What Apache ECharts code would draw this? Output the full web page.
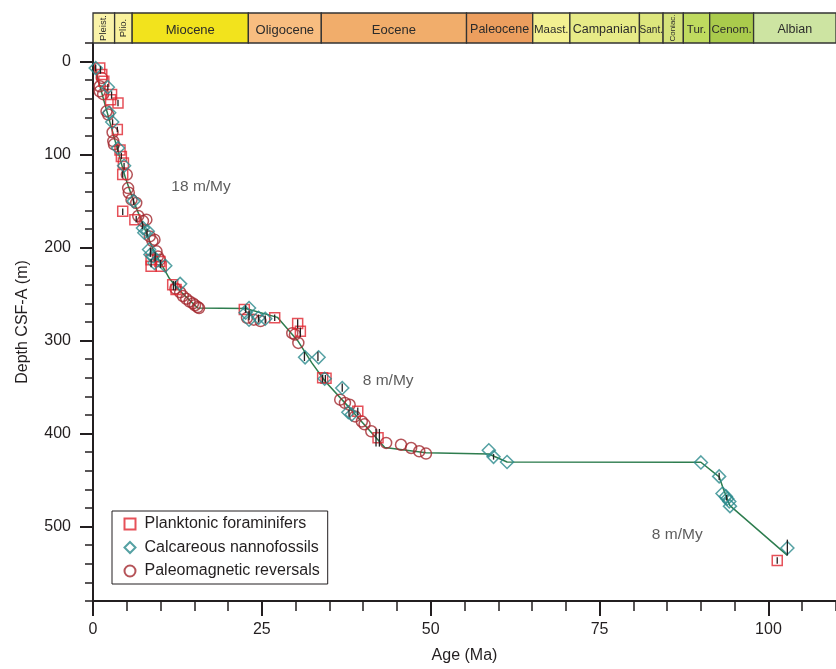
<!DOCTYPE html>
<html><head><meta charset="utf-8">
<script src="https://cdn.jsdelivr.net/npm/echarts@6/dist/echarts.min.js"></script>
<style>html,body{margin:0;padding:0;background:#fff}#c{width:836px;height:669px}</style>
</head><body><div id="c"></div>
<script>
// ---- data ----
const foramAge   = [1.0, 1.3, 1.6, 2.75, 2.6, 3.7, 3.6, 4.0, 4.2, 4.5, 4.4, 4.4, 6.2, 8.6, 8.6, 9.9, 10.1, 11.8, 12.3, 22.4, 26.9, 30.3, 30.7, 34.0, 34.5, 39.2, 42.2, 101.3];
const foramDepth = [7, 14, 21, 35.5, 41, 44.5, 73, 95, 102, 109, 121.5, 161, 170, 213, 220, 215, 220, 240, 245, 266.5, 275.5, 281.5, 290, 340, 340.5, 376, 404.5, 536.5];

const nannoAge   = [0.4, 2.2, 2.4, 2.85, 3.7, 4.6, 6.0, 7.4, 7.6, 8.1, 8.3, 8.5, 8.9, 9.1, 10.7, 12.9, 22.6, 23.1, 23.1, 24.5, 25.5, 31.4, 33.4, 34.3, 36.9, 37.8, 38.3, 58.6, 59.3, 61.3, 90.0, 92.7, 93.2, 93.7, 93.9, 94.2, 94.3, 102.8];
const nannoDepth = [7, 27.5, 55, 65, 93, 112, 150, 179, 184, 182.5, 202, 207.5, 209.5, 216.5, 219.5, 239, 270, 265, 277.5, 275.5, 276.5, 318, 318, 341, 351, 377, 379.5, 418, 425, 430.5, 431, 446, 464.5, 467.5, 470, 473, 478, 523];

const paleoAge   = [1.3, 1.0, 1.0, 1.5, 2.0, 2.25, 2.9, 3.0, 3.1, 5.0, 5.2, 5.3, 5.7, 6.4, 6.7, 7.4, 7.9, 8.4, 8.8, 9.1, 9.4, 9.6, 9.9, 12.2, 12.9, 13.3, 13.8, 14.3, 14.8, 15.1, 15.5, 15.7, 22.8, 23.8, 24.8, 29.5, 29.9, 30.4, 36.6, 37.3, 38.0, 38.8, 39.8, 40.2, 41.2, 43.4, 45.6, 47.1, 48.3, 49.3];
const paleoDepth = [17.5, 26.5, 32, 35, 53.5, 57, 76, 85.5, 89, 121.5, 136, 141, 148.5, 152, 166, 171.5, 170, 188, 193, 191.5, 204, 209.5, 213, 244, 248, 252, 255, 258, 260, 262, 264, 265, 275.5, 277.5, 279, 292, 293.5, 302.5, 363.5, 367, 369, 381.5, 387, 390, 397.5, 410, 412, 415.5, 419, 421.5];

const modelAge   = [0.2, 4.8, 6.0, 8.9, 11.3, 12.5, 15.5, 22.6, 27.3, 30.4, 32.4, 34.4, 37.8, 43.2, 49.3, 58.6, 61.3, 90.0, 92.7, 93.2, 94.3, 102.8];
const modelDepth = [5, 125, 150, 202, 233, 244, 265, 265.5, 275, 301, 324, 344, 371, 415, 420.5, 422, 430.5, 430.8, 446.5, 457, 477.5, 531];

const errAge    = [0.4, 1.1, 2.2, 2.75, 3.7, 2.9, 3.6, 3.7, 4.2, 4.6, 4.4, 6.0, 4.4, 6.4, 7.3, 8.0, 8.5, 9.2, 8.6, 10.0, 11.9, 12.2, 22.6, 23.1, 24.5, 25.5, 26.9, 30.3, 30.7, 31.3, 33.3, 34.0, 34.4, 36.9, 37.9, 39.2, 41.9, 42.4, 59.3, 92.7, 93.8, 101.3, 102.8];
const errTop    = [3, 5, 24, 32, 41, 62, 70, 90, 98, 109, 118, 147, 158, 166, 172, 180, 200, 205, 212, 213, 236, 236, 262, 268, 272, 273, 272, 277, 286, 312, 312, 337, 337, 346, 374, 372, 395, 395, 422, 442, 466, 533, 514];
const errBottom = [10, 13, 31, 40, 48, 68, 76, 97, 105, 116, 125, 154, 165, 173, 180, 188, 210, 215, 221, 222, 246, 246, 270, 278, 280, 281, 279, 287, 296, 322, 322, 345, 345, 355, 382, 380, 414, 414, 428, 450, 472, 540, 531];

const stageNames = ['Pleist.', 'Plio.', 'Miocene', 'Oligocene', 'Eocene', 'Paleocene', 'Maast.', 'Campanian', 'Sant.', 'Coniac.', 'Tur.', 'Cenom.', 'Albian'];
const stageStart = [0, 3.2, 5.8, 23.0, 33.8, 55.3, 65.1, 70.6, 80.9, 84.4, 87.4, 91.3, 97.8];
const stageEnd   = [3.2, 5.8, 23.0, 33.8, 55.3, 65.1, 70.6, 80.9, 84.4, 87.4, 91.3, 97.8, 110];

const rateLabels = ['18 m/My', '8 m/My', '8 m/My'];
const rateAge    = [16.0, 43.7, 86.5];
const rateDepth  = [134, 343, 508.5];

const xTickLabels = [0, 25, 50, 75, 100];
const yTickLabels = [0, 100, 200, 300, 400, 500];

// ---- styles ----
const stageColors = ['#faf3a9', '#faf29c', '#f2e31d', '#f8bd80', '#f1ad6b', '#ec9e5e', '#f3f091', '#e7eb87', '#dde67d', '#d4e27a', '#bfda5f', '#aacb4c', '#cde4a2'];
const stageFont   = [9.5, 9.5, 13, 13, 13, 12.5, 11.5, 12.5, 10, 8, 11.5, 11.5, 12.5];
const stageVertical = [true, true, false, false, false, false, false, false, false, true, false, false, false];
const ink = '#231f20';
const FONT = '"Liberation Sans", Arial, sans-serif';

const zip = (a, b) => a.map((v, i) => [v, b[i]]);

const chart = echarts.init(document.getElementById('c'), null, {renderer: 'canvas'});
chart.setOption({
  animation: false,
  backgroundColor: '#fff',
  textStyle: {fontFamily: FONT, color: ink},
  grid: [
    {left: 93, top: 43, width: 748, height: 559},
    {left: 93, top: 13, width: 748, height: 30}
  ],
  legend: {
    data: ['Planktonic foraminifers', 'Calcareous nannofossils', 'Paleomagnetic reversals'],
    orient: 'vertical', left: 112, top: 511,
    padding: [5, 8, 5, 11.5], itemGap: 7.5, itemWidth: 11, itemHeight: 11,
    borderColor: ink, borderWidth: 1, backgroundColor: '#fff',
    textStyle: {fontSize: 16, color: ink, fontFamily: FONT, padding: [0, 0, 0, 4]},
    selectedMode: false
  },
  xAxis: [
    {gridIndex: 0, type: 'value', min: 0, max: 110, position: 'bottom',
     axisLine: {show: true, onZero: false, lineStyle: {color: ink, width: 2}},
     axisTick: {show: true, customValues: xTickLabels, length: 15, lineStyle: {color: ink, width: 2}},
     axisLabel: {customValues: xTickLabels, margin: 21, fontSize: 16, color: ink, fontFamily: FONT},
     splitLine: {show: false},
     name: 'Age (Ma)', nameLocation: 'middle', nameGap: 47,
     nameTextStyle: {fontSize: 16, color: ink, fontFamily: FONT}},
    {gridIndex: 0, type: 'value', min: 0, max: 110, interval: 5, position: 'bottom',
     axisLine: {show: false, onZero: false},
     axisTick: {show: true, length: 10, lineStyle: {color: ink, width: 1.5}},
     axisLabel: {show: false}, splitLine: {show: false}},
    {gridIndex: 1, type: 'value', min: 0, max: 110, show: false}
  ],
  yAxis: [
    {gridIndex: 0, type: 'value', min: -20, max: 580, inverse: true, position: 'left',
     axisLine: {show: true, onZero: false, lineStyle: {color: ink, width: 2}},
     axisTick: {show: true, customValues: yTickLabels, length: 13, lineStyle: {color: ink, width: 2}},
     axisLabel: {customValues: yTickLabels, margin: 22, fontSize: 16, color: ink, fontFamily: FONT},
     splitLine: {show: false},
     name: 'Depth CSF-A (m)', nameLocation: 'middle', nameGap: 62,
     nameTextStyle: {fontSize: 16, color: ink, fontFamily: FONT}},
    {gridIndex: 0, type: 'value', min: -20, max: 580, interval: 20, inverse: true, position: 'left',
     axisLine: {show: false, onZero: false},
     axisTick: {show: true, length: 8, lineStyle: {color: ink, width: 1.5}},
     axisLabel: {show: false}, splitLine: {show: false}},
    {gridIndex: 1, type: 'value', min: 0, max: 1, show: false}
  ],
  series: [
    {type: 'custom', name: 'stages', xAxisIndex: 2, yAxisIndex: 2, silent: true,
     data: stageNames.map((n, i) => [stageStart[i], stageEnd[i], i]),
     renderItem: function (params, api) {
       const i = api.value(2);
       const p0 = api.coord([api.value(0), 1]);
       const p1 = api.coord([api.value(1), 0]);
       const w = p1[0] - p0[0], h = p1[1] - p0[1];
       return {type: 'group', children: [
         {type: 'rect', shape: {x: p0[0], y: p0[1], width: w, height: h},
          style: {fill: stageColors[i], stroke: '#333333', lineWidth: 1.3}},
         {type: 'text', x: p0[0] + w / 2, y: p0[1] + h / 2 + (stageVertical[i] ? 0 : 2),
          rotation: stageVertical[i] ? Math.PI / 2 : 0,
          style: {text: stageNames[i], align: 'center', verticalAlign: 'middle',
                  fontSize: stageFont[i], fill: '#2b2b2b', fontFamily: FONT}}
       ]};
     }},
    {type: 'line', name: 'Age model', xAxisIndex: 0, yAxisIndex: 0, data: zip(modelAge, modelDepth),
     symbol: 'none', silent: true, lineStyle: {color: '#2e7d4f', width: 1.5}, z: 2},
    {type: 'scatter', name: 'Paleomagnetic reversals', xAxisIndex: 0, yAxisIndex: 0,
     data: zip(paleoAge, paleoDepth), symbol: 'circle', symbolSize: 11,
     itemStyle: {color: 'rgba(255,255,255,0)', borderColor: '#a3282e', borderWidth: 1.5}, z: 3},
    {type: 'scatter', name: 'Planktonic foraminifers', xAxisIndex: 0, yAxisIndex: 0,
     data: zip(foramAge, foramDepth), symbol: 'rect', symbolSize: 10,
     itemStyle: {color: 'rgba(255,255,255,0)', borderColor: '#e0262f', borderWidth: 1.5}, z: 3},
    {type: 'scatter', name: 'Calcareous nannofossils', xAxisIndex: 0, yAxisIndex: 0,
     data: zip(nannoAge, nannoDepth), symbol: 'diamond', symbolSize: 13,
     itemStyle: {color: 'rgba(255,255,255,0)', borderColor: '#2a8a8c', borderWidth: 1.5}, z: 3},
    {type: 'custom', name: 'errors', xAxisIndex: 0, yAxisIndex: 0, silent: true, z: 4,
     data: errAge.map((a, i) => [a, errTop[i], errBottom[i]]),
     renderItem: function (params, api) {
       const t = api.coord([api.value(0), api.value(1)]);
       const b = api.coord([api.value(0), api.value(2)]);
       return {type: 'line', shape: {x1: t[0], y1: t[1], x2: b[0], y2: b[1]},
               style: {stroke: ink, lineWidth: 1.3}};
     }},
    {type: 'scatter', name: 'rates', xAxisIndex: 0, yAxisIndex: 0, silent: true, z: 5,
     data: rateLabels.map((t, i) => ({name: t, value: [rateAge[i], rateDepth[i]]})),
     symbolSize: 0, itemStyle: {color: 'rgba(0,0,0,0)'},
     label: {show: true, position: 'inside', formatter: p => p.name, fontSize: 15.5, color: '#333', fontFamily: FONT}}
  ]
});
</script>
</body></html>
